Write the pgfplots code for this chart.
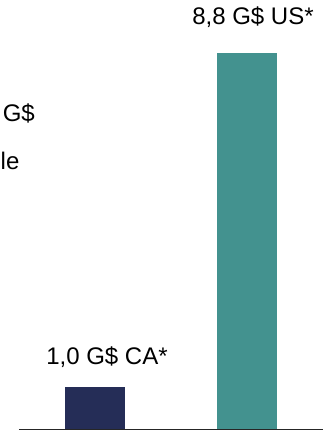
\documentclass[border=0pt]{standalone}
\usepackage{pgfplots}
\pgfplotsset{compat=1.18}
\usepackage{fontspec}
\setmainfont{Liberation Sans}
\definecolor{navybar}{RGB}{37,45,87}
\definecolor{tealbar}{RGB}{67,146,143}
\begin{document}
\begin{tikzpicture}[x=1pt,y=1pt]
\begin{axis}[
  at={(19pt,2.5pt)}, anchor=south west,
  scale only axis, width=304pt, height=429.5pt,
  xmin=-0.5, xmax=1.5, ymin=0, ymax=10.03,
  axis y line=none, axis x line=bottom,
  x axis line style={-, black!85, line width=1.1pt},
  xtick=\empty, ytick=\empty,
  ybar, bar width=0.401, bar shift=0pt,
  enlargelimits=false, clip=false,
]
\addplot[fill=navybar, draw=none] coordinates {(0,1.0)};
\addplot[fill=tealbar, draw=none] coordinates {(1,8.8)};
\end{axis}
\begin{scope}[every node/.style={font=\fontsize{24}{28}\selectfont, inner sep=0pt}]
\node[anchor=base] at (253,407) {8,8 G\$ US*};
\node[anchor=base] at (107,67) {1,0 G\$ CA*};
\node[anchor=base east] at (35,310) {G\$};
\node[anchor=base west] at (0.5,262) {le};
\end{scope}
\pgfresetboundingbox
\useasboundingbox (0,0) rectangle (331,432);
\end{tikzpicture}
\end{document}
